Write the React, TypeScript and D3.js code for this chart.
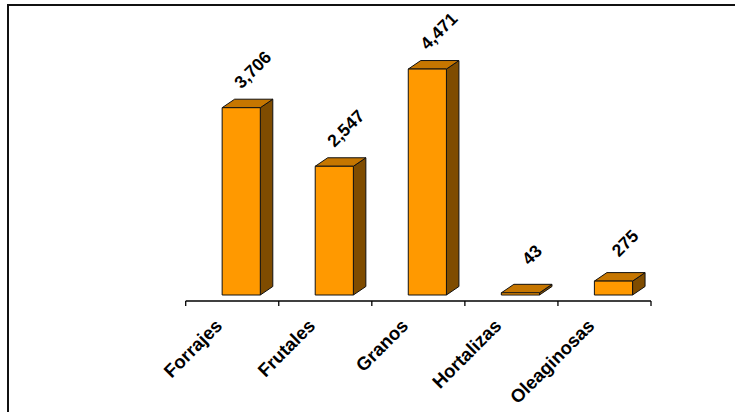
import React from "react";
import * as d3 from "d3";

const categories: string[] = ["Forrajes", "Frutales", "Granos", "Hortalizas", "Oleaginosas"];
const values: number[] = [3706, 2547, 4471, 43, 275];
const valueLabels: string[] = ["3,706", "2,547", "4,471", "43", "275"];

const W = 735;
const H = 412;

export default function App() {
  const x = d3.scaleBand<string>().domain(categories).range([185.7, 651]).paddingInner(0).paddingOuter(0);
  const y = d3.scaleLinear().domain([0, 5000]).range([295, 42.3]);
  const axisY = 301;
  const floorShiftX = 9;
  const depthX = 12.5;
  const depthY = 8.5;
  const barW = x.bandwidth() * 0.41;
  const font = "'Liberation Sans', Arial, sans-serif";
  const ticks = [...categories.map((c) => x(c) as number), (x(categories[categories.length - 1]) as number) + x.bandwidth()];

  return (
    <div style={{ position: "fixed", left: 0, top: 0 }}>
      <svg width={W} height={H} style={{ display: "block", background: "#fff" }}>
        <rect x={8} y={5} width={780} height={460} fill="none" stroke="#111" strokeWidth={2} />
        {categories.map((c, i) => {
          const cx = (x(c) as number) + x.bandwidth() / 2 + floorShiftX;
          const x0 = cx - barW / 2;
          const x1 = cx + barW / 2;
          const y0 = y(0);
          const yt = y(values[i]);
          const front = `M${x0},${yt}L${x1},${yt}L${x1},${y0}L${x0},${y0}Z`;
          const top = `M${x0},${yt}L${x0 + depthX},${yt - depthY}L${x1 + depthX},${yt - depthY}L${x1},${yt}Z`;
          const side = `M${x1},${yt}L${x1 + depthX},${yt - depthY}L${x1 + depthX},${y0 - depthY}L${x1},${y0}Z`;
          return (
            <g key={c}>
              <path d={side} fill="#7F4C00" stroke="#111" strokeWidth={1} strokeLinejoin="round" />
              <path d={top} fill="#C67600" stroke="#111" strokeWidth={1} strokeLinejoin="round" />
              <path d={front} fill="#FF9900" stroke="#111" strokeWidth={1} strokeLinejoin="round" />
              <text
                transform={`translate(${cx + 11.5},${yt - 38}) rotate(-45)`}
                textAnchor="middle"
                dominantBaseline="central"
                fontFamily={font}
                fontWeight="bold"
                fontSize={17.5}
                fill="#000"
              >
                {valueLabels[i]}
              </text>
            </g>
          );
        })}
        <line x1={ticks[0]} x2={ticks[ticks.length - 1]} y1={axisY} y2={axisY} stroke="#000" strokeWidth={1.3} />
        {ticks.map((t, i) => (
          <line key={i} x1={t} x2={t} y1={axisY} y2={axisY + 5} stroke="#000" strokeWidth={1.3} />
        ))}
        {categories.map((c) => {
          const cx = (x(c) as number) + x.bandwidth() / 2;
          return (
            <text
              key={c}
              transform={`translate(${cx - 9},${axisY + 26}) rotate(-45)`}
              textAnchor="end"
              fontFamily={font}
              fontWeight="bold"
              fontSize={18.5}
              fill="#000"
            >
              {c}
            </text>
          );
        })}
      </svg>
    </div>
  );
}
